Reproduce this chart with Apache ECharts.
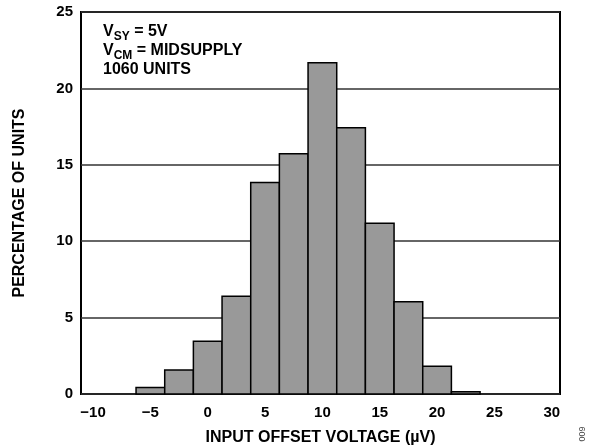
<!DOCTYPE html>
<html>
<head>
<meta charset="utf-8">
<script src="https://cdn.jsdelivr.net/npm/echarts@6/dist/echarts.min.js"></script>
<style>
html,body{margin:0;padding:0;background:#fff;}
#chart{width:593px;height:448px;}
</style>
</head>
<body>
<div id="chart"></div>
<script>
// Histogram bins (centre of each bin, µV) and percentage of units
const binCenters = [-5, -2.5, 0, 2.5, 5, 7.5, 10, 12.5, 15, 17.5, 20, 22.5];
const percentages = [0.42, 1.57, 3.46, 6.40, 13.84, 15.72, 21.68, 17.42, 11.18, 6.03, 1.82, 0.14];
const BIN_WIDTH = 2.5;
const xTickLabels = [-10, -5, 0, 5, 10, 15, 20, 25, 30];
const yTicks = [0, 5, 10, 15, 20, 25];
const annotationLines = [['V', 'SY', ' = 5V'], ['V', 'CM', ' = MIDSUPPLY'], ['1060 UNITS', '', '']];
const xTitle = 'INPUT OFFSET VOLTAGE (µV)';
const yTitle = 'PERCENTAGE OF UNITS';
const figNumber = '009';

const FONT = '"Liberation Sans", Arial, Helvetica, sans-serif';
const chart = echarts.init(document.getElementById('chart'), null, {renderer: 'canvas'});

const annText = annotationLines.map(l => {
  let s = '{b|' + l[0] + '}';
  if (l[1]) s += '{s|' + l[1] + '}';
  if (l[2]) s += '{b|' + l[2] + '}';
  return s;
}).join('\n');

const option = {
  backgroundColor: '#fff',
  animation: false,
  grid: {
    left: 81, right: 33, top: 12, bottom: 54,
    containLabel: false,
    outerBoundsMode: 'none',
    show: true, borderColor: '#000', borderWidth: 2, backgroundColor: 'transparent'
  },
  xAxis: {
    type: 'value',
    min: -11.05,
    max: 30.72,
    axisLine: {show: false},
    axisTick: {show: false},
    splitLine: {show: false},
    axisLabel: {
      customValues: xTickLabels,
      margin: 11,
      color: '#000',
      fontFamily: FONT,
      fontWeight: 'bold',
      fontSize: 15,
      formatter: v => String(v).replace('-', '\u2212')
    },
    name: xTitle,
    nameLocation: 'middle',
    nameGap: 36,
    nameTextStyle: {color: '#000', fontFamily: FONT, fontWeight: 'bold', fontSize: 16}
  },
  yAxis: {
    type: 'value',
    min: yTicks[0],
    max: yTicks[yTicks.length - 1],
    interval: 5,
    axisLine: {show: false},
    axisTick: {show: false},
    splitLine: {show: true, lineStyle: {color: '#333', width: 1.5}},
    axisLabel: {
      margin: 8,
      color: '#000',
      fontFamily: FONT,
      fontWeight: 'bold',
      fontSize: 15
    },
    name: yTitle,
    nameLocation: 'middle',
    nameGap: 53,
    nameTextStyle: {color: '#000', fontFamily: FONT, fontWeight: 'bold', fontSize: 16}
  },
  graphic: [
    {
      type: 'text',
      left: 103,
      top: 24,
      z: 10,
      style: {
        text: annText,
        fontFamily: FONT,
        rich: {
          b: {fontFamily: FONT, fontWeight: 'bold', fontSize: 16, fill: '#000', lineHeight: 19, verticalAlign: 'bottom'},
          s: {fontFamily: FONT, fontWeight: 'bold', fontSize: 12, fill: '#000', lineHeight: 19, verticalAlign: 'bottom', padding: [0, 0, -3, 0]}
        }
      }
    },
    {
      type: 'text',
      x: 583,
      y: 434,
      rotation: Math.PI / 2,
      z: 10,
      style: {
        text: figNumber,
        fontFamily: FONT,
        fontSize: 9,
        fill: '#444',
        align: 'center',
        verticalAlign: 'middle'
      }
    }
  ],
  series: [{
    type: 'custom',
    data: binCenters.map((c, i) => [c, percentages[i]]),
    renderItem: function (params, api) {
      const c = api.value(0), v = api.value(1);
      const p0 = api.coord([c - BIN_WIDTH / 2, v]);
      const p1 = api.coord([c + BIN_WIDTH / 2, 0]);
      return {
        type: 'rect',
        shape: {x: p0[0], y: p0[1], width: p1[0] - p0[0], height: p1[1] - p0[1]},
        style: {fill: '#999999', stroke: '#000', lineWidth: 1.5}
      };
    },
    z: 3
  }]
};
chart.setOption(option);
</script>
</body>
</html>
